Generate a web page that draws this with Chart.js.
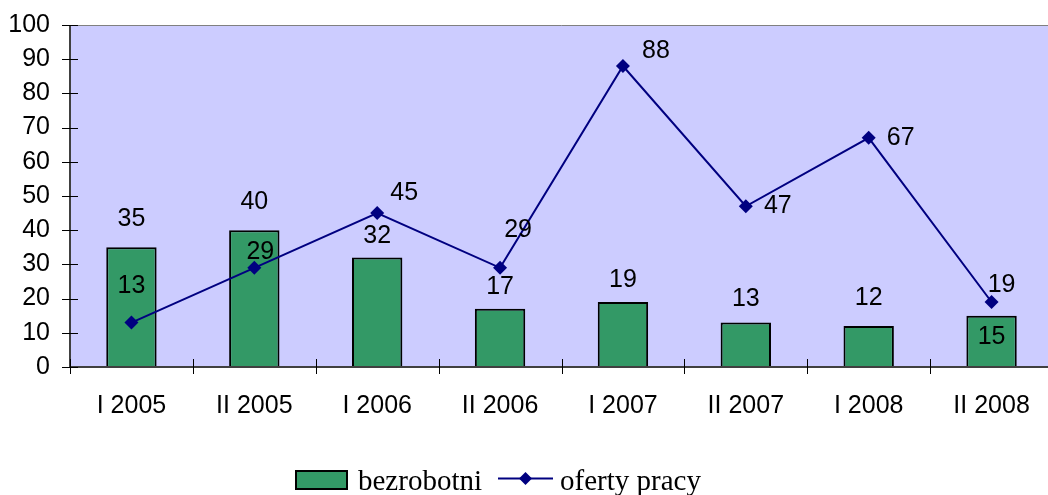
<!DOCTYPE html>
<html><head><meta charset="utf-8">
<script src="https://cdn.jsdelivr.net/npm/chart.js@4"></script>
<style>
html,body{margin:0;padding:0;background:#fff;overflow:hidden}
#wrap{width:1048px;height:495px;overflow:hidden;position:relative}
canvas{display:block}
</style></head><body>
<div id="wrap"><canvas id="c" width="1060" height="495"></canvas></div>
<script>
const categories = ['I 2005','II 2005','I 2006','II 2006','I 2007','II 2007','I 2008','II 2008'];
const bezrobotni = [35, 40, 32, 17, 19, 13, 12, 15];
const ofertyPracy = [13, 29, 45, 29, 88, 47, 67, 19];
const seriesNames = ['bezrobotni', 'oferty pracy'];
const yMin = 0, yMax = 100, yStep = 10;

const SANS = "'Liberation Sans', Arial, sans-serif";
const SERIF = "'Liberation Serif', 'Times New Roman', serif";
const BAR_COLOR = '#339966';
const LINE_COLOR = '#000080';

// label placement offsets (px) relative to the mark
const barLabelDy = [-28, -28, -21, -22, -22, -23, -28, 21];
const lineLabelOff = [[0,-36],[6,-16],[27,-20],[18,-38],[33,-15],[32,0],[32,0],[10,-17]];

const decor = {
  id: 'decor',
  beforeDraw(chart) {
    const {ctx, chartArea: a} = chart;
    ctx.save();
    ctx.fillStyle = '#CCCCFF';
    ctx.fillRect(a.left, a.top, a.right - a.left, a.bottom - a.top);
    ctx.restore();
  },
  afterDatasetsDraw(chart) {
    const {ctx, chartArea: a} = chart;
    const ys = chart.scales.y;
    ctx.save();
    ctx.strokeStyle = '#808080'; ctx.lineWidth = 1;
    ctx.beginPath(); ctx.moveTo(a.left, a.top + 0.5); ctx.lineTo(a.right, a.top + 0.5); ctx.stroke();
    ctx.strokeStyle = '#404040'; ctx.lineWidth = 2;
    ctx.beginPath(); ctx.moveTo(a.left, a.top); ctx.lineTo(a.left, a.bottom + 1); ctx.stroke();
    ctx.beginPath(); ctx.moveTo(a.left, a.bottom); ctx.lineTo(a.right, a.bottom); ctx.stroke();
    ctx.strokeStyle = '#000'; ctx.lineWidth = 1;
    ys.ticks.forEach((t, i) => {
      const py = Math.round(ys.getPixelForTick(i)) + 0.5;
      ctx.beginPath(); ctx.moveTo(a.left - 8, py); ctx.lineTo(a.left + 8, py); ctx.stroke();
    });
    const n = categories.length;
    const w = (a.right - a.left) / n;
    for (let i = 0; i <= n; i++) {
      const px = Math.round(a.left + i * w) + 0.5;
      ctx.beginPath(); ctx.moveTo(px, a.bottom - 8); ctx.lineTo(px, a.bottom + 7); ctx.stroke();
    }
    ctx.fillStyle = '#000';
    ctx.font = '25px ' + SANS;
    ctx.textAlign = 'center'; ctx.textBaseline = 'middle';
    const barMeta = chart.getDatasetMeta(1);
    barMeta.data.forEach((el, i) => {
      ctx.fillText(String(bezrobotni[i]), el.x, el.y + barLabelDy[i]);
    });
    const lineMeta = chart.getDatasetMeta(0);
    lineMeta.data.forEach((el, i) => {
      ctx.fillText(String(ofertyPracy[i]), el.x + lineLabelOff[i][0], el.y + lineLabelOff[i][1]);
    });
    ctx.restore();
  },
  afterDraw(chart) {
    const ctx = chart.ctx;
    ctx.save();
    ctx.fillStyle = BAR_COLOR;
    ctx.fillRect(295, 470, 53, 20);
    ctx.strokeStyle = '#000'; ctx.lineWidth = 2;
    ctx.strokeRect(296, 471, 51, 18);
    ctx.fillStyle = '#000';
    ctx.font = '29px ' + SERIF;
    ctx.textAlign = 'left'; ctx.textBaseline = 'alphabetic';
    ctx.fillText(seriesNames[0], 358, 490);
    ctx.strokeStyle = LINE_COLOR; ctx.lineWidth = 2;
    ctx.beginPath(); ctx.moveTo(498, 478.5); ctx.lineTo(553, 478.5); ctx.stroke();
    ctx.fillStyle = LINE_COLOR;
    ctx.beginPath();
    ctx.moveTo(525.5, 472); ctx.lineTo(532, 478.5); ctx.lineTo(525.5, 485); ctx.lineTo(519, 478.5); ctx.closePath(); ctx.fill();
    ctx.fillStyle = '#000';
    ctx.fillText(seriesNames[1], 560, 490);
    ctx.restore();
  }
};

new Chart(document.getElementById('c'), {
  data: {
    labels: categories,
    datasets: [
      {
        type: 'line', label: seriesNames[1], data: ofertyPracy, order: 1,
        borderColor: LINE_COLOR, backgroundColor: LINE_COLOR, borderWidth: 2,
        pointStyle: 'rectRot', pointRadius: 7, pointBorderWidth: 0,
        pointBackgroundColor: LINE_COLOR, tension: 0
      },
      {
        type: 'bar', label: seriesNames[0], data: bezrobotni, order: 2,
        backgroundColor: BAR_COLOR, borderColor: '#000', borderWidth: 2,
        barPercentage: 0.41, categoryPercentage: 1
      }
    ]
  },
  options: {
    responsive: false, animation: false, devicePixelRatio: 1,
    layout: { padding: { left: 0, top: 25, right: 3, bottom: 0 } },
    plugins: { legend: { display: false }, tooltip: { enabled: false } },
    scales: {
      x: {
        offset: true,
        grid: { display: false, drawTicks: false },
        border: { display: false },
        ticks: { color: '#000', font: { family: SANS, size: 25 }, padding: 24, maxRotation: 0, autoSkip: false },
        afterFit(s) { s.height = 128; s.paddingLeft = 0; s.paddingRight = 0; }
      },
      y: {
        min: yMin, max: yMax,
        grid: { display: false, drawTicks: false },
        border: { display: false },
        ticks: { stepSize: yStep, color: '#000', font: { family: SANS, size: 25 }, padding: 20 },
        afterFit(s) { s.width = 70; s.paddingTop = 0; s.paddingBottom = 0; }
      }
    }
  },
  plugins: [decor]
});
</script>
</body></html>
